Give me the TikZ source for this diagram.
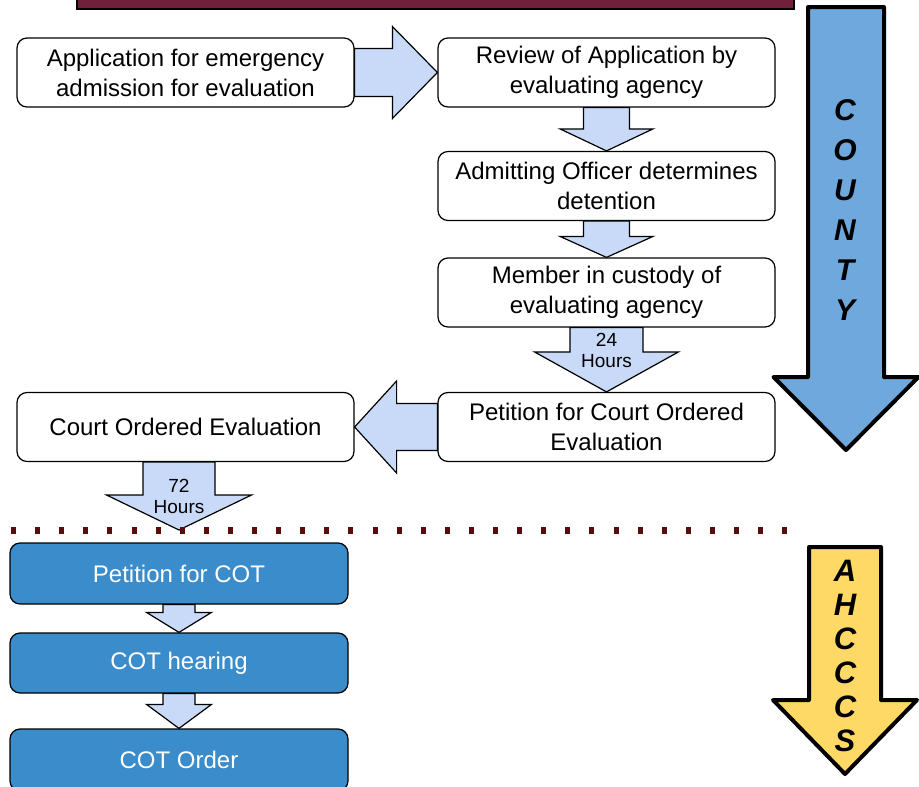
\documentclass[tikz,border=0pt]{standalone}
\usepackage{fontspec}
\setmainfont{Liberation Sans}
\usetikzlibrary{calc}
\usepackage{xcolor}
\definecolor{arrowfill}{HTML}{C9DAF8}
\definecolor{cotblue}{HTML}{3A8CCB}
\definecolor{countyblue}{HTML}{6FA8DC}
\definecolor{ahcccsyellow}{HTML}{FFD966}
\definecolor{titlered}{HTML}{70203A}
\definecolor{dotred}{HTML}{5A0C0C}
% block arrow: [style] start, tip, half body, half head, head length
\newcommand{\blockarrow}[6][flow arrow]{%
  \coordinate (head base) at ($(#3)!#6!(#2)$);%
  \draw[#1] ($(#2)!#4!90:(#3)$) -- ($(head base)!#4!90:(#3)$)%
  -- ($(head base)!#5!90:(#3)$) -- (#3) -- ($(head base)!#5!-90:(#3)$)%
  -- ($(head base)!#4!-90:(#3)$) -- ($(#2)!#4!-90:(#3)$) -- cycle;%
}

\begin{document}
\begin{tikzpicture}[x=1pt,y=-1pt]
  \tikzset{%
    flow box/.style={draw=black, line width=1.2pt, rounded corners=10pt,%
      fill=white, minimum width=337pt, minimum height=69pt, inner sep=0pt,%
      align=center, font=\fontsize{24}{30}\selectfont},%
    cot box/.style={flow box, fill=cotblue, text=white,%
      minimum width=338pt, minimum height=61pt},%
    flow arrow/.style={draw=black, line width=1.2pt, fill=arrowfill},%
    side arrow/.style={draw=black, line width=4pt, line join=round},%
    hours/.style={inner sep=0pt, align=center, font=\fontsize{19}{21}\selectfont},%
    side text/.style={inner sep=0pt, align=center}%
  }%
  \useasboundingbox (0,0) rectangle (919,787);%

  %
  % Title bar
  %
  \draw[fill=titlered, line width=2pt] (77,-10) rectangle (794,9);%

  %
  % County side
  %
  \node[flow box] (application) at (185.5,72.5) {Application for emergency\\admission for evaluation};%
  \node[flow box] (review) at (606.5,72.5) {Review of Application by\\evaluating agency};%
  \node[flow box] (officer) at (606.5,186) {Admitting Officer determines\\detention};%
  \node[flow box] (custody) at (606.5,292.5) {Member in custody of\\evaluating agency};%
  \node[flow box] (petition) at (606.5,427) {Petition for Court Ordered\\Evaluation};%
  \node[flow box] (court) at (185.5,427) {Court Ordered Evaluation};%

  \blockarrow{application.east}{review.west}{24pt}{46pt}{45pt}%
  \blockarrow{review.south}{officer.north}{23pt}{46.5pt}{22pt}%
  \blockarrow{officer.south}{custody.north}{23pt}{46.5pt}{21pt}%
  \blockarrow{custody.south}{petition.north}{36.5pt}{72pt}{40pt}%
  \node[hours] (hours 24) at (606.5,350) {24\\Hours};%
  \blockarrow{petition.west}{court.east}{23.5pt}{46pt}{42pt}%

  % Split between county and AHCCCS
  \coordinate (split) at (179,530);%
  \blockarrow{split |- court.south}{split}{36pt}{72.5pt}{35pt}%
  \node[hours] (hours 72) at (179,496) {72\\Hours};%
  \draw[dotred, line width=7pt, dash pattern=on 5pt off 19.1pt] (11,530) -- (790,530);%

  %
  % AHCCCS side
  %
  \node[cot box] (cot petition) at (179,573.5) {Petition for COT};%
  \node[cot box, minimum height=60pt] (cot hearing) at (179,663) {COT hearing};%
  \node[cot box, minimum height=62pt] (cot order) at (179,760) {COT Order};%
  \blockarrow{cot petition.south}{cot hearing.north}{16pt}{32.5pt}{20pt}%
  \blockarrow{cot hearing.south}{cot order.north}{16pt}{32.5pt}{24pt}%

  %
  % Side arrows
  %
  \coordinate (county top) at (846,7);%
  \coordinate (county tip) at (846,450);%
  \blockarrow[side arrow, fill=countyblue]{county top}{county tip}{38pt}{72.5pt}{73pt}%
  \node[side text, font=\fontsize{30}{40}\selectfont\bfseries\itshape] (county) at (845,210) {C\\O\\U\\N\\T\\Y};%

  \coordinate (ahcccs top) at (845,547);%
  \coordinate (ahcccs tip) at (845,774);%
  \blockarrow[side arrow, fill=ahcccsyellow]{ahcccs top}{ahcccs tip}{36pt}{72pt}{74pt}%
  \node[side text, font=\fontsize{31}{34}\selectfont\bfseries\itshape] (ahcccs) at (845,656) {A\\H\\C\\C\\C\\S};%
\end{tikzpicture}
\end{document}
